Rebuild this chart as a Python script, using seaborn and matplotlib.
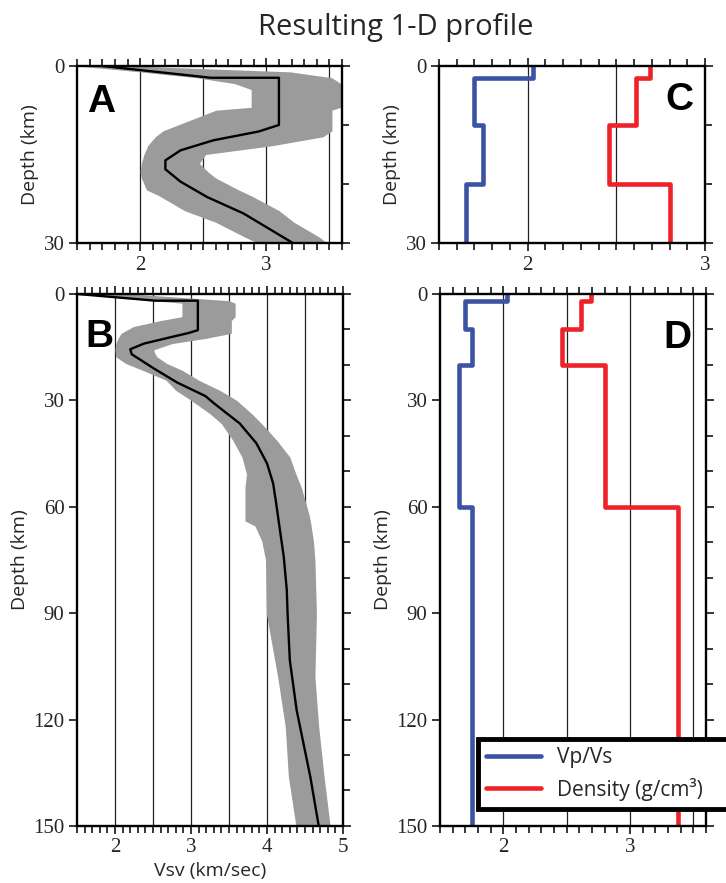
import matplotlib.pyplot as plt
import numpy as np
import pandas as pd
import seaborn as sns
from matplotlib.ticker import MultipleLocator

# Panel A: Vsv model, upper 30 km
a_line_depth = [0, 2, 2, 10, 11.1, 12.6, 14.3, 16, 17.5, 19.6, 22.2, 25, 30]
a_line_vsv = [1.7, 2.56, 3.1, 3.1, 2.94, 2.58, 2.32, 2.2, 2.2, 2.32, 2.53, 2.82, 3.21]
a_band_depth = [0, 1, 2, 3, 4, 7, 7.5, 10, 11, 12, 13.5, 15, 16.5, 18, 19, 21, 22, 24.5, 26.5, 29, 30]
a_band_low = [1.5, 2.0, 2.45, 2.75, 2.88, 2.88, 2.6, 2.3, 2.18, 2.12, 2.06, 2.03, 2.01, 2.0,
              2.01, 2.05, 2.15, 2.35, 2.6, 2.83, 2.93]
a_band_high = [1.93, 3.19, 3.52, 3.59, 3.59, 3.59, 3.52, 3.52, 3.52, 3.45, 3.05, 2.52, 2.47, 2.54,
               2.6, 2.78, 2.88, 3.1, 3.22, 3.42, 3.48]

# Panel B: Vsv model, full 150 km
b_line_depth = [0, 1.9, 1.9, 10.2, 11, 12, 14, 15.6, 17, 21, 25, 28.8, 30.8, 36.5, 42.1, 47.8,
                53.4, 59, 66.6, 74.1, 83.5, 90, 103.3, 117.4, 126.8, 136.2, 150]
b_line_vsv = [1.5, 2.53, 3.09, 3.09, 2.97, 2.77, 2.38, 2.2, 2.22, 2.51, 2.82, 3.19, 3.3, 3.64,
              3.86, 4.0, 4.08, 4.12, 4.17, 4.22, 4.26, 4.27, 4.3, 4.39, 4.48, 4.57, 4.68]
b_band_depth = [0, 1.9, 2.6, 6.4, 7.5, 9.2, 11.1, 12.5, 14, 15.8, 17.7, 19.6, 21.5, 24.3, 27.2, 30,
                33.8, 36.6, 41.3, 46, 50.8, 54.5, 62, 64, 65.4, 69.6, 75, 90, 108, 122, 136, 150]
b_band_low = [1.5, 2.5, 2.88, 2.88, 2.6, 2.24, 2.08, 2.04, 2.01, 2.0, 2.01, 2.14, 2.36, 2.67, 2.8,
              3.0, 3.25, 3.4, 3.55, 3.67, 3.73, 3.71, 3.71, 3.71, 3.84, 3.93, 3.98, 3.99, 4.14,
              4.24, 4.28, 4.38]
b_band_high = [2.2, 3.5, 3.58, 3.58, 3.53, 3.53, 3.53, 3.2, 2.75, 2.5, 2.55, 2.68, 2.88, 3.1, 3.38,
               3.6, 3.8, 3.93, 4.13, 4.3, 4.38, 4.45, 4.55, 4.57, 4.58, 4.61, 4.63, 4.65, 4.63,
               4.68, 4.75, 4.83]

# Panels C/D: layered Vp/Vs and density
layer_top = [0, 2, 10, 20, 60]
layer_bot = [2, 10, 20, 60, 150]
vpvs = [2.03, 1.70, 1.75, 1.65, 1.75]
density = [2.69, 2.61, 2.46, 2.80, 3.38]

BLUE = '#3a53a4'
RED = '#ee2229'
GRAY = '#9b9b9b'
SERIF = 'Liberation Serif'
SANS = 'Open Sans'

sns.set_style('ticks')
plt.rcParams['font.family'] = ['Open Sans', 'DejaVu Sans']


def stairs(values):
    depth = np.column_stack([layer_top, layer_bot]).ravel()
    return np.repeat(values, 2), depth


def style_axis(ax, xlim, ymax, grid_x, letter, letter_xy, letter_ha):
    ax.set_xlim(*xlim)
    ax.set_ylim(ymax, 0)
    for g in grid_x:
        ax.axvline(g, color='#222222', lw=0.9, zorder=0)
    ax.xaxis.set_major_locator(MultipleLocator(1))
    ax.xaxis.set_minor_locator(MultipleLocator(0.1))
    ax.yaxis.set_major_locator(MultipleLocator(30))
    ax.yaxis.set_minor_locator(MultipleLocator(10))
    ax.tick_params(which='both', direction='out', top=True, right=True, width=1.1,
                   color='black', labelsize=15, pad=3, labelfontfamily=SERIF)
    ax.tick_params(which='major', length=6)
    ax.tick_params(which='minor', length=5)
    ax.tick_params(axis='y', which='minor', left=False)
    for sp in ax.spines.values():
        sp.set_linewidth(1.7)
        sp.set_color('black')
        sp.set_zorder(5)
    ax.set_ylabel('Depth (km)', fontsize=14, family=SANS, labelpad=3)
    ax.set_xlabel('')
    ax.text(letter_xy[0], letter_xy[1], letter, transform=ax.transAxes, ha=letter_ha,
            va='baseline', fontsize=28, fontweight='bold', family='Liberation Sans',
            color='black', zorder=6)


fig = plt.figure(figsize=(7.26, 8.83), dpi=100)
ax_a = fig.add_axes([0.1061, 0.7248, 0.3650, 0.2005])
ax_c = fig.add_axes([0.6047, 0.7248, 0.3664, 0.2005])
ax_b = fig.add_axes([0.1061, 0.0646, 0.3664, 0.6025])
ax_d = fig.add_axes([0.6061, 0.0646, 0.3664, 0.6025])

# A
ax_a.fill_betweenx(a_band_depth, a_band_low, a_band_high, color=GRAY, lw=0, zorder=1)
sns.lineplot(x=a_line_vsv, y=a_line_depth, sort=False, estimator=None, orient='y',
             color='black', lw=1.7, ax=ax_a, zorder=3)
style_axis(ax_a, (1.5, 3.6), 30, [2, 2.5, 3, 3.5], 'A', (0.038, 0.74), 'left')

# B
ax_b.fill_betweenx(b_band_depth, b_band_low, b_band_high, color=GRAY, lw=0, zorder=1)
sns.lineplot(x=b_line_vsv, y=b_line_depth, sort=False, estimator=None, orient='y',
             color='black', lw=1.7, ax=ax_b, zorder=3)
style_axis(ax_b, (1.5, 5.0), 150, [2, 2.5, 3, 3.5, 4, 4.5], 'B', (0.03, 0.9), 'left')
ax_b.set_xlabel('Vsv (km/sec)', fontsize=14, family=SANS, labelpad=3)

# C and D
for ax in (ax_c, ax_d):
    x, y = stairs(vpvs)
    sns.lineplot(x=x, y=y, sort=False, estimator=None, orient='y', color=BLUE, lw=3.3,
                 ax=ax, zorder=3, label='Vp/Vs')
    x, y = stairs(density)
    sns.lineplot(x=x, y=y, sort=False, estimator=None, orient='y', color=RED, lw=3.3,
                 ax=ax, zorder=3, label='Density (g/cm³)')

ax_c.get_legend().remove()
style_axis(ax_c, (1.5, 3.0), 30, [2, 2.5], 'C', (0.955, 0.751), 'right')
style_axis(ax_d, (1.5, 3.6), 150, [2, 2.5, 3, 3.5], 'D', (0.947, 0.898), 'right')

handles, labels = ax_d.get_legend_handles_labels()
ax_d.get_legend().remove()
leg = fig.legend(handles, labels, loc='lower left',
                 bbox_to_anchor=(478 / 726, 1 - 809 / 883, 262 / 726, 76 / 883),
                 mode='expand', fontsize=15, frameon=True, fancybox=False,
                 framealpha=1, edgecolor='black', handlelength=2.6, borderpad=0.4,
                 labelspacing=0.45, handletextpad=0.8, borderaxespad=0)
leg.get_frame().set_linewidth(3.5)
for line in leg.get_lines():
    line.set_linewidth(3.3)
leg.set_zorder(10)

fig.text(0.545, 0.969, 'Resulting 1-D profile', ha='center', va='center', fontsize=21,
         family=SANS)

fig.savefig('out.png', dpi=100)
